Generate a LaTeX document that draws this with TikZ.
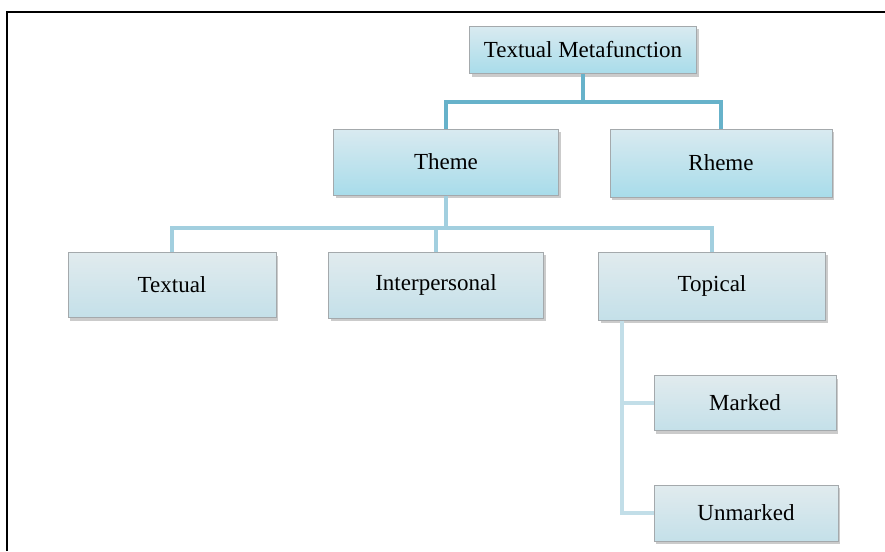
\documentclass[tikz,border=0pt]{standalone}
\usepackage{fontspec}
\setmainfont{Liberation Serif}
\usepackage{xcolor}
\usepackage{tikz}
\usetikzlibrary{shapes,positioning,shadows}

\definecolor{linkdark}{HTML}{67B2CA}
\definecolor{linkmid}{HTML}{A2CFDF}
\definecolor{linklight}{HTML}{C2DEE8}
\definecolor{boxedge}{HTML}{A4A9AC}
\definecolor{uptop}{HTML}{D9EAF0}
\definecolor{upbottom}{HTML}{A8DCEA}
\definecolor{lowtop}{HTML}{E1EBEE}
\definecolor{lowbottom}{HTML}{C4E0E9}

\begin{document}
\begin{tikzpicture}[x=1pt, y=-1pt,
  box/.style={rectangle, draw=boxedge, line width=1pt,
    font=\fontsize{23}{27}\selectfont, inner sep=0pt,
    drop shadow={shadow xshift=2pt, shadow yshift=-3pt, fill=black!45, opacity=0.45}},
  upbox/.style={box, top color=uptop, bottom color=upbottom},
  lowbox/.style={box, top color=lowtop, bottom color=lowbottom},
  link/.style={line width=4pt, color=linkdark},
  sublink/.style={line width=4pt, color=linkmid},
  leaflink/.style={line width=4pt, color=linklight}
]
\useasboundingbox (0,0) rectangle (885,551);
\fill[white] (0,0) rectangle (885,551);
% frame
\draw[line width=2pt] (7,551) -- (7,12) -- (885,12);

% top level
\node[upbox, minimum width=227, minimum height=47] (meta) at (583,50) {Textual Metafunction};
\node[upbox, minimum width=225, minimum height=66] (theme) at (446,162) {Theme};
\node[upbox, minimum width=222, minimum height=68] (rheme) at (721,163) {Rheme};

\draw[link] (meta.south) -- ++(0,28) -| (theme.north);
\draw[link] (meta.south) -- ++(0,28) -| (rheme.north);

% theme types
\node[lowbox, minimum width=208, minimum height=65] (textual) at (172,285) {Textual};
\node[lowbox, minimum width=215, minimum height=66] (interp) at (436,285) {Interpersonal};
\node[lowbox, minimum width=227, minimum height=68] (topical) at (712,286) {Topical};

\draw[sublink] (theme.south) -- ++(0,32) -| (textual.north);
\draw[sublink] (theme.south) -- ++(0,32) -| (interp.north);
\draw[sublink] (theme.south) -- ++(0,32) -| (topical.north);

% topical types
\node[lowbox, minimum width=182, minimum height=55] (marked) at (745,403) {Marked};
\node[lowbox, minimum width=184, minimum height=56] (unmarked) at (746,513) {Unmarked};

\coordinate (tap) at ([xshift=24pt]topical.south west);
\draw[leaflink] (tap) |- (marked.west);
\draw[leaflink] (tap) |- (unmarked.west);
\end{tikzpicture}
\end{document}
